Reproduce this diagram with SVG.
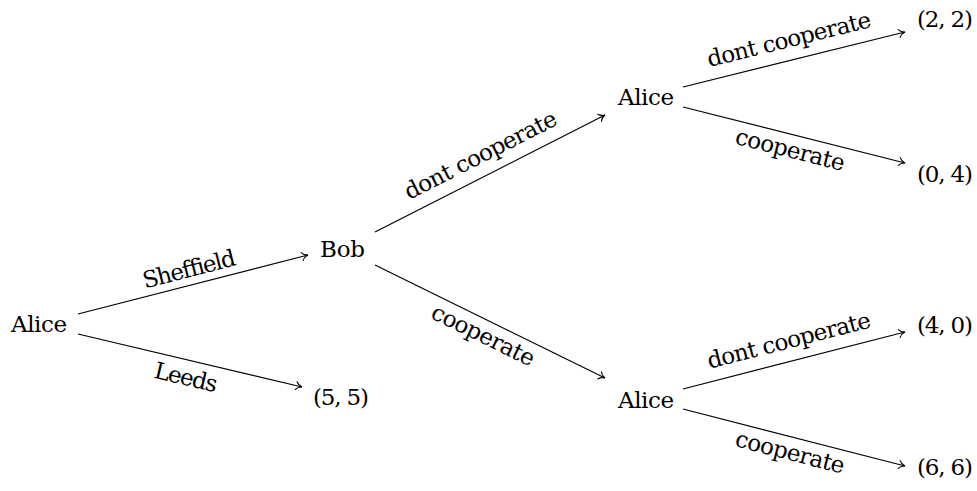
<svg xmlns="http://www.w3.org/2000/svg" width="977" height="491" viewBox="0 0 977 491">
  <defs>
    <marker id="to" viewBox="-8 -6 10 12" markerWidth="10" markerHeight="12" refX="0" refY="0" orient="auto" markerUnits="userSpaceOnUse">
      <path d="M-6,-4 C-4.5,-1.6 -2,-0.4 0,0 C-2,0.4 -4.5,1.6 -6,4" fill="none" stroke="#000" stroke-width="1.1" stroke-linecap="round"/>
    </marker>
  </defs>
  <style>
    text { font-family: "DejaVu Serif", "Liberation Serif", serif; font-size: 23px; fill: #000; }
    .lbl { text-anchor: middle; }
    .edge { stroke: #000; stroke-width: 1.2; fill: none; marker-end: url(#to); }
  </style>
  <rect width="977" height="491" fill="#fff"/>

  <g id="connectors">
    <line class="edge" x1="78" y1="314" x2="308" y2="255"/>
    <line class="edge" x1="78" y1="334" x2="302" y2="387"/>
    <line class="edge" x1="375" y1="232" x2="605" y2="115"/>
    <line class="edge" x1="375" y1="265" x2="605" y2="378"/>
    <line class="edge" x1="683" y1="87" x2="905" y2="32"/>
    <line class="edge" x1="683" y1="107" x2="905" y2="163"/>
    <line class="edge" x1="683" y1="389" x2="905" y2="332"/>
    <line class="edge" x1="683" y1="409" x2="905" y2="466"/>

    <g transform="translate(193,284.5) rotate(-14.39)"><text class="lbl" x="0" y="-8" textLength="95">Sheffield</text></g>
    <g transform="translate(190,360.5) rotate(13.31)"><text class="lbl" x="0" y="25" textLength="64">Leeds</text></g>
    <g transform="translate(490,173.5) rotate(-26.96)"><text class="lbl" x="0" y="-13" textLength="168">dont cooperate</text></g>
    <g transform="translate(490,321.5) rotate(26.16)"><text class="lbl" x="0" y="23" textLength="112">cooperate</text></g>
    <g transform="translate(794,59.5) rotate(-13.91)"><text class="lbl" x="0" y="-13" textLength="168">dont cooperate</text></g>
    <g transform="translate(794,135) rotate(14.16)"><text class="lbl" x="0" y="23" textLength="112">cooperate</text></g>
    <g transform="translate(794,360.5) rotate(-14.40)"><text class="lbl" x="0" y="-13" textLength="168">dont cooperate</text></g>
    <g transform="translate(794,437.5) rotate(14.40)"><text class="lbl" x="0" y="23" textLength="112">cooperate</text></g>
  </g>

  <g id="n-alice-root"><text x="11" y="332" textLength="56">Alice</text></g>
  <g id="n-bob"><text x="320" y="257" textLength="45">Bob</text></g>
  <g id="n-leeds"><text x="313" y="405" textLength="56">(5, 5)</text></g>
  <g id="n-alice-top"><text x="618" y="105" textLength="56">Alice</text></g>
  <g id="n-alice-bottom"><text x="618" y="408" textLength="56">Alice</text></g>
  <g id="n-p22"><text x="917" y="27" textLength="56">(2, 2)</text></g>
  <g id="n-p04"><text x="917" y="182" textLength="56">(0, 4)</text></g>
  <g id="n-p40"><text x="917" y="333" textLength="56">(4, 0)</text></g>
  <g id="n-p66"><text x="917" y="475" textLength="56">(6, 6)</text></g>
</svg>
